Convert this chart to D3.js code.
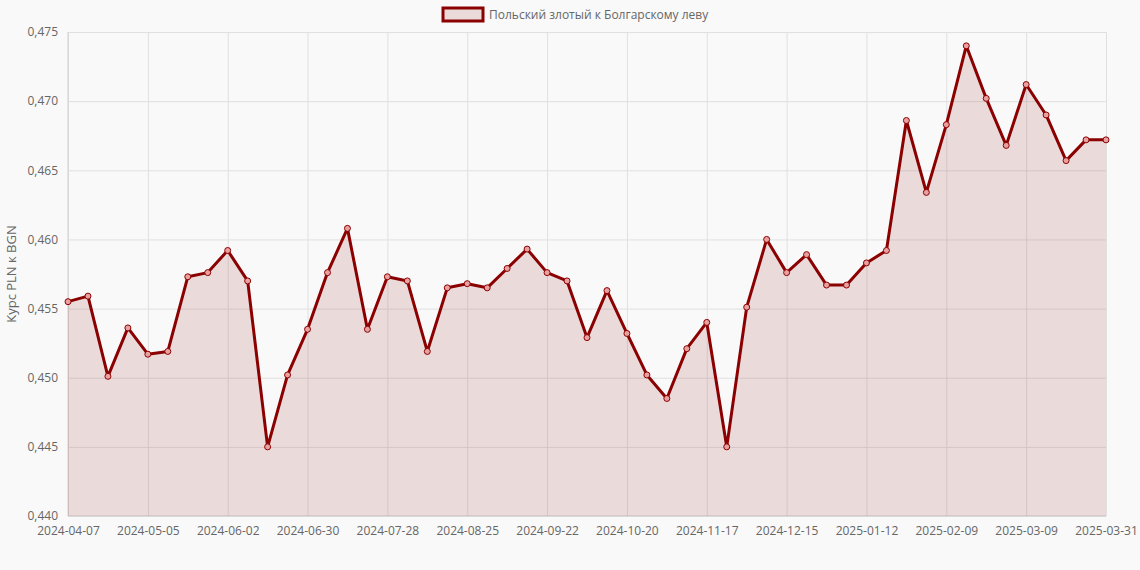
<!DOCTYPE html>
<html><head><meta charset="utf-8">
<script src="https://cdn.jsdelivr.net/npm/d3@7"></script>
<style>body{margin:0;background:#f9f9f9;font-family:"Open Sans",Arial,sans-serif}</style>
</head><body><svg id="c" width="1140" height="570"></svg>
<script>
const seriesName = "Польский злотый к Болгарскому леву";
const yTitle = "Курс PLN к BGN";
const values = [0.4555,0.4559,0.4501,0.4536,0.4517,0.4519,0.4573,0.4576,0.4592,0.4570,
  0.4450,0.4502,0.4535,0.4576,0.4608,0.4535,0.4573,0.4570,0.4519,0.4565,
  0.4568,0.4565,0.4579,0.4593,0.4576,0.4570,0.4529,0.4563,0.4532,0.4502,
  0.4485,0.4521,0.4540,0.4450,0.4551,0.4600,0.4576,0.4589,0.4567,0.4567,
  0.4583,0.4592,0.4686,0.4634,0.4683,0.4740,0.4702,0.4668,0.4712,0.4690,
  0.4657,0.4672,0.4672];
const yTicks = [0.440,0.445,0.450,0.455,0.460,0.465,0.470,0.475];

// weekly dates from 2024-04-07, last point is 2025-03-31
const fmt = d3.timeFormat("%Y-%m-%d");
const dates = values.map((v,i)=> i < values.length-1
  ? fmt(d3.timeDay.offset(new Date(2024,3,7), 7*i)) : "2025-03-31");

const svg = d3.select("#c");
const L = 68, R = 1106, T = 32, B = 516;
const x = d3.scalePoint().domain(dates).range([L, R]);
const y = d3.scaleLinear().domain([0.440, 0.475]).range([B, T]);
const tickDates = dates.filter((d,i)=> i%4===0 || i===dates.length-1);
const ff = d => d3.format(".3f")(d).replace(".", ",");

svg.append("g").attr("transform",`translate(0,${B})`)
  .call(d3.axisBottom(x).tickValues(tickDates).tickSize(-(B-T)).tickPadding(10))
  .call(g=>{g.select(".domain").remove();
    g.selectAll("line").attr("stroke","#e0e0e0");
    g.selectAll("text").attr("fill","#666").style("font-size","12px").style("font-family","Open Sans");});
svg.append("g").attr("transform",`translate(${L},0)`)
  .call(d3.axisLeft(y).tickValues(yTicks).tickFormat(ff).tickSize(-(R-L)).tickPadding(10))
  .call(g=>{g.select(".domain").remove();
    g.selectAll("line").attr("stroke","#e0e0e0");
    g.selectAll("text").attr("fill","#666").style("font-size","12px").style("font-family","Open Sans");});
svg.append("line").attr("x1",L).attr("x2",L).attr("y1",T).attr("y2",B).attr("stroke","#d0d0d0");
svg.append("line").attr("x1",L).attr("x2",R).attr("y1",B).attr("y2",B).attr("stroke","#d0d0d0");

svg.append("path").datum(values)
  .attr("d", d3.area().x((d,i)=>x(dates[i])).y0(B).y1(d=>y(d)))
  .attr("fill","rgba(139,0,0,0.12)");
svg.append("path").datum(values)
  .attr("d", d3.line().x((d,i)=>x(dates[i])).y(d=>y(d)))
  .attr("fill","none").attr("stroke","#8b0000").attr("stroke-width",3).attr("stroke-linejoin","round");
svg.selectAll("circle").data(values).join("circle")
  .attr("cx",(d,i)=>x(dates[i])).attr("cy",d=>y(d)).attr("r",3)
  .attr("fill","#e8a0a0").attr("stroke","#8b0000").attr("stroke-width",1);

svg.append("text").attr("transform",`translate(16,${(T+B)/2}) rotate(-90)`)
  .attr("text-anchor","middle").attr("fill","#666").style("font-size","13px").text(yTitle);
svg.append("rect").attr("x",443).attr("y",8).attr("width",40).attr("height",13)
  .attr("fill","rgba(139,0,0,0.12)").attr("stroke","#8b0000").attr("stroke-width",3);
svg.append("text").attr("x",489).attr("y",19).attr("fill","#666").style("font-size","12px").text(seriesName);
</script></body></html>
